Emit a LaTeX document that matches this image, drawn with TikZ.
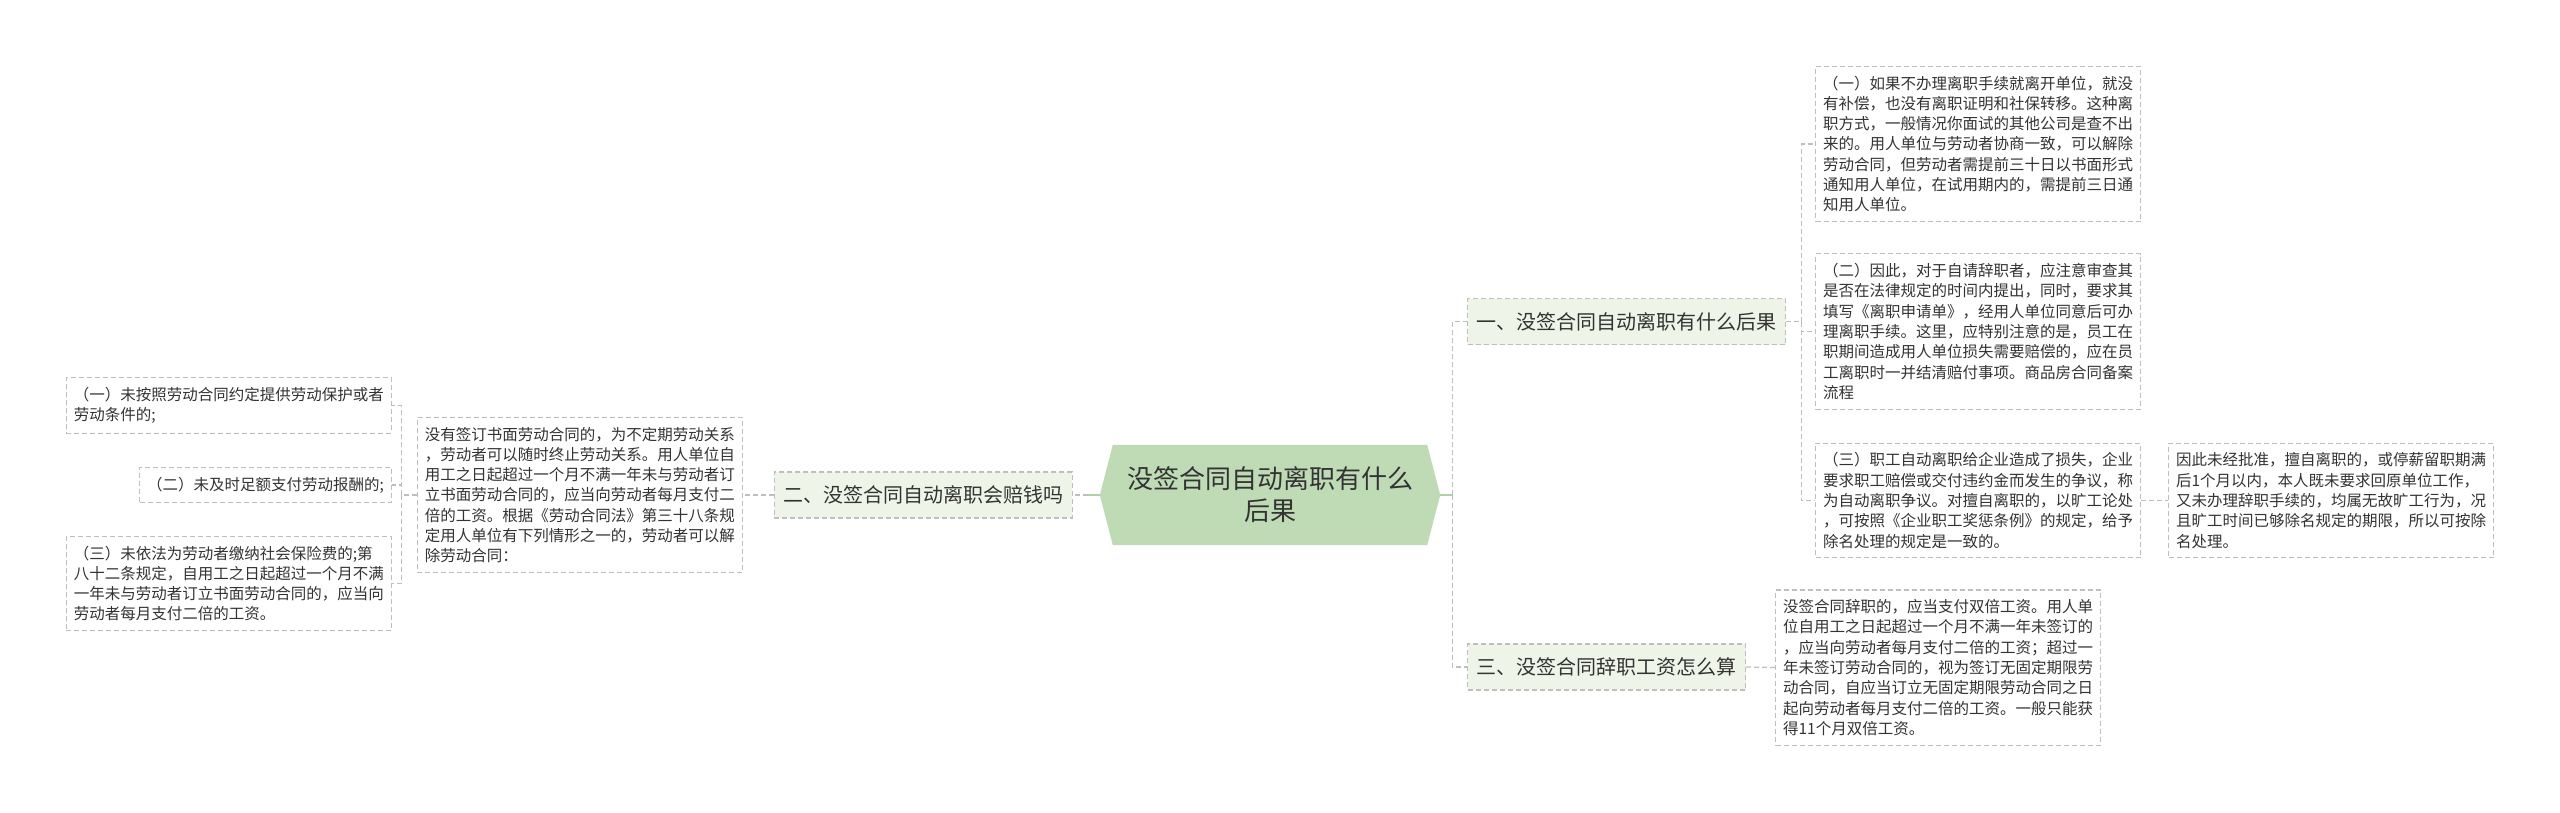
\documentclass[tikz,border=0pt]{standalone}
\usepackage{fontspec}
\setmainfont{Noto Sans CJK SC}
\usetikzlibrary{backgrounds}
\definecolor{bordergray}{RGB}{190,190,190}
\definecolor{linegray}{RGB}{190,190,190}
\definecolor{hexfill}{RGB}{191,219,182}
\definecolor{branchfill}{RGB}{239,244,232}
\definecolor{greenline}{RGB}{178,208,168}
\definecolor{txt}{RGB}{51,51,51}
\tikzset{
  leaf/.style={draw=bordergray, line width=1.2pt, dash pattern=on 5pt off 3pt, fill=white,
    text=txt, font=\fontsize{15.5pt}{20.3pt}\selectfont, text width=310pt, align=left,
    inner xsep=7.5pt, inner ysep=9.5pt, anchor=west},
  shortleaf/.style={draw=bordergray, line width=1.2pt, dash pattern=on 5pt off 3pt, fill=white,
    text=txt, font=\fontsize{15.5pt}{20.3pt}\selectfont, inner xsep=7.5pt, inner ysep=9.5pt},
  branch/.style={draw=bordergray, line width=1.2pt, dash pattern=on 5pt off 3pt, fill=branchfill,
    text=txt, font=\fontsize{20pt}{24pt}\selectfont, inner xsep=9pt, minimum height=46pt, anchor=west},
  conn/.style={draw=linegray, line width=1.2pt, dash pattern=on 5pt off 3pt},
  gconn/.style={draw=greenline, line width=2pt},
}
\begin{document}
\begin{tikzpicture}[x=1pt,y=-1pt]
\useasboundingbox (0,0) rectangle (2560,812);

% centre
\node[minimum width=340pt, minimum height=100pt, inner sep=0pt, align=center, text=txt,
  font=\fontsize{26pt}{32pt}\selectfont] (c) at (1270,495) {没签合同自动离职有什么\\后果};
\begin{scope}[on background layer]
\fill[white] (0,0) rectangle (2560,812);
\fill[hexfill] (c.west) -- ([xshift=13pt]c.north west) -- ([xshift=-13pt]c.north east) -- (c.east)
  -- ([xshift=-13pt]c.south east) -- ([xshift=13pt]c.south west) -- cycle;
\end{scope}

% right branches
\node[branch] (b1) at (1467,321.5) {一、没签合同自动离职有什么后果};
\node[branch] (b3) at (1467,667) {三、没签合同辞职工资怎么算};

\node[leaf] (r1) at (1815,144) {（一）如果不办理离职手续就离开单位，就没\\
有补偿，也没有离职证明和社保转移。这种离\\
职方式，一般情况你面试的其他公司是查不出\\
来的。用人单位与劳动者协商一致，可以解除\\
劳动合同，但劳动者需提前三十日以书面形式\\
通知用人单位，在试用期内的，需提前三日通\\
知用人单位。};

\node[leaf] (r2) at (1815,331.5) {（二）因此，对于自请辞职者，应注意审查其\\
是否在法律规定的时间内提出，同时，要求其\\
填写《离职申请单》，经用人单位同意后可办\\
理离职手续。这里，应特别注意的是，员工在\\
职期间造成用人单位损失需要赔偿的，应在员\\
工离职时一并结清赔付事项。商品房合同备案\\
流程};

\node[leaf] (r3) at (1815,500.5) {（三）职工自动离职给企业造成了损失，企业\\
要求职工赔偿或交付违约金而发生的争议，称\\
为自动离职争议。对擅自离职的，以旷工论处\\
，可按照《企业职工奖惩条例》的规定，给予\\
除名处理的规定是一致的。};

\node[leaf] (r3a) at (2168,500.5) {因此未经批准，擅自离职的，或停薪留职期满\\
后1个月以内，本人既未要求回原单位工作，\\
又未办理辞职手续的，均属无故旷工行为，况\\
且旷工时间已够除名规定的期限，所以可按除\\
名处理。};

\node[leaf] (l3) at (1775,667.5) {没签合同辞职的，应当支付双倍工资。用人单\\
位自用工之日起超过一个月不满一年未签订的\\
，应当向劳动者每月支付二倍的工资；超过一\\
年未签订劳动合同的，视为签订无固定期限劳\\
动合同，自应当订立无固定期限劳动合同之日\\
起向劳动者每月支付二倍的工资。一般只能获\\
得11个月双倍工资。};

% left branch
\node[branch, anchor=east] (b2) at (1073,495) {二、没签合同自动离职会赔钱吗};

\node[leaf, anchor=east] (m) at (743,495) {没有签订书面劳动合同的，为不定期劳动关系\\
，劳动者可以随时终止劳动关系。用人单位自\\
用工之日起超过一个月不满一年未与劳动者订\\
立书面劳动合同的，应当向劳动者每月支付二\\
倍的工资。根据《劳动合同法》第三十八条规\\
定用人单位有下列情形之一的，劳动者可以解\\
除劳动合同：};

\node[leaf, anchor=east] (ll1) at (392,405.5) {（一）未按照劳动合同约定提供劳动保护或者\\
劳动条件的;};
\node[shortleaf, anchor=east] (ll2) at (392,485) {（二）未及时足额支付劳动报酬的;};
\node[leaf, anchor=east] (ll3) at (392,583.5) {（三）未依法为劳动者缴纳社会保险费的;第\\
八十二条规定，自用工之日起超过一个月不满\\
一年未与劳动者订立书面劳动合同的，应当向\\
劳动者每月支付二倍的工资。};

% connectors
\draw[gconn] (c.east) -- ++(12,0) coordinate (rj);
\draw[conn] (rj) |- (b1.west);
\draw[conn] (rj) |- (b3.west);
\draw[gconn] (c.west) -- ++(-12,0) coordinate (lj);
\draw[conn] (lj) -- (b2.east);

\draw[conn] (b1.east) -- ++(15,0) coordinate (bj);
\draw[conn] (bj) |- (r1.west);
\draw[conn] (bj) |- (r2.west);
\draw[conn] (bj) |- (r3.west);
\draw[conn] (r3.east) -- (r3a.west);
\draw[conn] (b3.east) -- (l3.west);

\draw[conn] (b2.west) -- (m.east);
\draw[conn] (m.west) -- ++(-15,0) coordinate (mj);
\draw[conn] (mj) |- (ll1.east);
\draw[conn] (mj) |- (ll2.east);
\draw[conn] (mj) |- (ll3.east);
\end{tikzpicture}
\end{document}
